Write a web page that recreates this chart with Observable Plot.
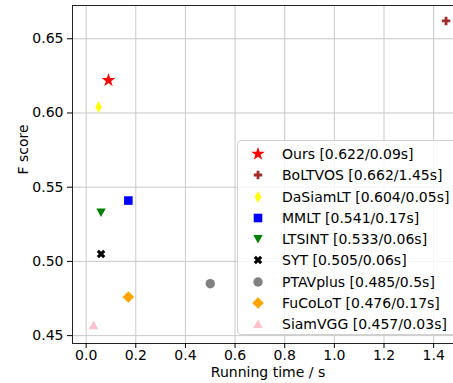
<!DOCTYPE html>
<html><head><meta charset="utf-8">
<script src="https://cdn.jsdelivr.net/npm/d3@7"></script>
<script src="https://cdn.jsdelivr.net/npm/@observablehq/plot@0.6"></script>
<style>
body{margin:0;background:#fff;}
#wrap{position:relative;width:453px;height:383px;overflow:hidden;font-family:"DejaVu Sans",sans-serif;}
#legend{position:absolute;left:237px;top:140px;width:230px;height:195px;box-sizing:border-box;border:1px solid #d0d0d0;border-radius:4px;background:rgba(255,255,255,0.8);}
#legend .row{position:absolute;left:0;height:20px;display:flex;align-items:center;font-size:14px;color:#000;white-space:nowrap;}
#legend svg{display:block;}
</style></head><body><div id="wrap"></div>
<script>
// ---- data ----
const names = ["Ours","BoLTVOS","DaSiamLT","MMLT","LTSINT","SYT","PTAVplus","FuCoLoT","SiamVGG"];
const fscore = [0.622,0.662,0.604,0.541,0.533,0.505,0.485,0.476,0.457];
const runtime = [0.09,1.45,0.05,0.17,0.06,0.06,0.5,0.17,0.03];
const xTicks = [0,0.2,0.4,0.6,0.8,1.0,1.2,1.4];
const yTicks = [0.45,0.50,0.55,0.60,0.65];
const xDomain = [-0.055,1.48];
const yDomain = [0.4447,0.6724];
const palette = ["#ff0000","#a52a2a","#ffff00","#0000ff","#008000","#000000","#808080","#ffa500","#ffc0cb"];

// ---- custom marker shapes (matplotlib-like), scaled by r (base r = 5) ----
function k(size){ return Math.sqrt(size/Math.PI)/5; }
function poly(ctx, pts){ ctx.moveTo(pts[0][0],pts[0][1]); for(let i=1;i<pts.length;i++) ctx.lineTo(pts[i][0],pts[i][1]); ctx.closePath(); }
const symStar = {draw(ctx,size){const s=k(size),R=7.2*s,r=R*0.382;const p=[];for(let i=0;i<10;i++){const a=-Math.PI/2+i*Math.PI/5;const rr=i%2?r:R;p.push([rr*Math.cos(a),rr*Math.sin(a)]);}poly(ctx,p);}};
const symPlus = {draw(ctx,size){const s=k(size),a=4.2*s,b=a/3;poly(ctx,[[-b,-a],[b,-a],[b,-b],[a,-b],[a,b],[b,b],[b,a],[-b,a],[-b,b],[-a,b],[-a,-b],[-b,-b]]);}};
const symThinDiamond = {draw(ctx,size){const s=k(size);poly(ctx,[[0,-5.8*s],[3.3*s,0],[0,5.8*s],[-3.3*s,0]]);}};
const symSquare = {draw(ctx,size){const s=k(size),a=4.3*s;poly(ctx,[[-a,-a],[a,-a],[a,a],[-a,a]]);}};
const symTriDown = {draw(ctx,size){const s=k(size);poly(ctx,[[-4.7*s,-4*s],[4.7*s,-4*s],[0,4.5*s]]);}};
const symX = {draw(ctx,size){const s=k(size),a=4.3*s,t=2.2*s;poly(ctx,[[-a+t,-a],[0,-t],[a-t,-a],[a,-a+t],[t,0],[a,a-t],[a-t,a],[0,t],[-a+t,a],[-a,a-t],[-t,0],[-a,-a+t]]);}};
const symCircle = {draw(ctx,size){const s=k(size),r=4.7*s;ctx.moveTo(r,0);ctx.arc(0,0,r,0,2*Math.PI);ctx.closePath();}};
const symDiamond = {draw(ctx,size){const s=k(size),a=5.8*s;poly(ctx,[[0,-a],[a,0],[0,a],[-a,0]]);}};
const symTriUp = {draw(ctx,size){const s=k(size);poly(ctx,[[0,-4.5*s],[4.7*s,4*s],[-4.7*s,4*s]]);}};
const symbols = [symStar,symPlus,symThinDiamond,symSquare,symTriDown,symX,symCircle,symDiamond,symTriUp];

const data = names.map((n,i)=>({name:n,f:fscore[i],t:runtime[i]}));

const chart = Plot.plot({
  width:453, height:383,
  marginLeft:72, marginRight:0, marginTop:5, marginBottom:40,
  style:{fontFamily:"DejaVu Sans", fontSize:"14px", color:"#000", background:"#fff", overflow:"visible"},
  x:{domain:xDomain},
  y:{domain:yDomain},
  color:{domain:names, range:palette},
  symbol:{domain:names, range:symbols},
  marks:[
    Plot.gridX(xTicks,{stroke:"#c8c8c8", strokeOpacity:1, strokeWidth:1}),
    Plot.gridY(yTicks,{stroke:"#c8c8c8", strokeOpacity:1, strokeWidth:1}),
    Plot.ruleX([xDomain[0]],{stroke:"#222"}),
    Plot.ruleY([yDomain[0],yDomain[1]],{stroke:"#222"}),
    Plot.axisX(xTicks,{tickSize:5, tickPadding:2, tickFormat:d3.format(".1f"), label:null, fontSize:14}),
    Plot.axisY(yTicks,{tickSize:5, tickPadding:4, tickFormat:d3.format(".2f"), label:null, fontSize:14}),
    Plot.text(["Running time / s"],{frameAnchor:"bottom", dx:5, dy:29, lineAnchor:"middle", fontSize:14}),
    Plot.text(["F score"],{frameAnchor:"left", dx:-49, rotate:-90, lineAnchor:"middle", fontSize:14}),
    Plot.dot(data,{x:"t", y:"f", fill:"name", symbol:"name", r:5, stroke:"none"})
  ]
});
const wrap = document.getElementById("wrap");
wrap.appendChild(chart);

// ---- legend ----
const leg = document.createElement("div");
leg.id = "legend";
names.forEach((n,i)=>{
  const row = document.createElement("div");
  row.className = "row";
  row.style.top = (3 + i*21.25) + "px";
  const path = d3.symbol(symbols[i], Math.PI*25)();
  row.innerHTML = `<svg width="40" height="20" viewBox="-20 -10 40 20"><path d="${path}" fill="${palette[i]}"></path></svg><span style="margin-left:4px">${n} [${fscore[i].toFixed(3)}/${runtime[i]}s]</span>`;
  leg.appendChild(row);
});
wrap.appendChild(leg);
</script></body></html>
